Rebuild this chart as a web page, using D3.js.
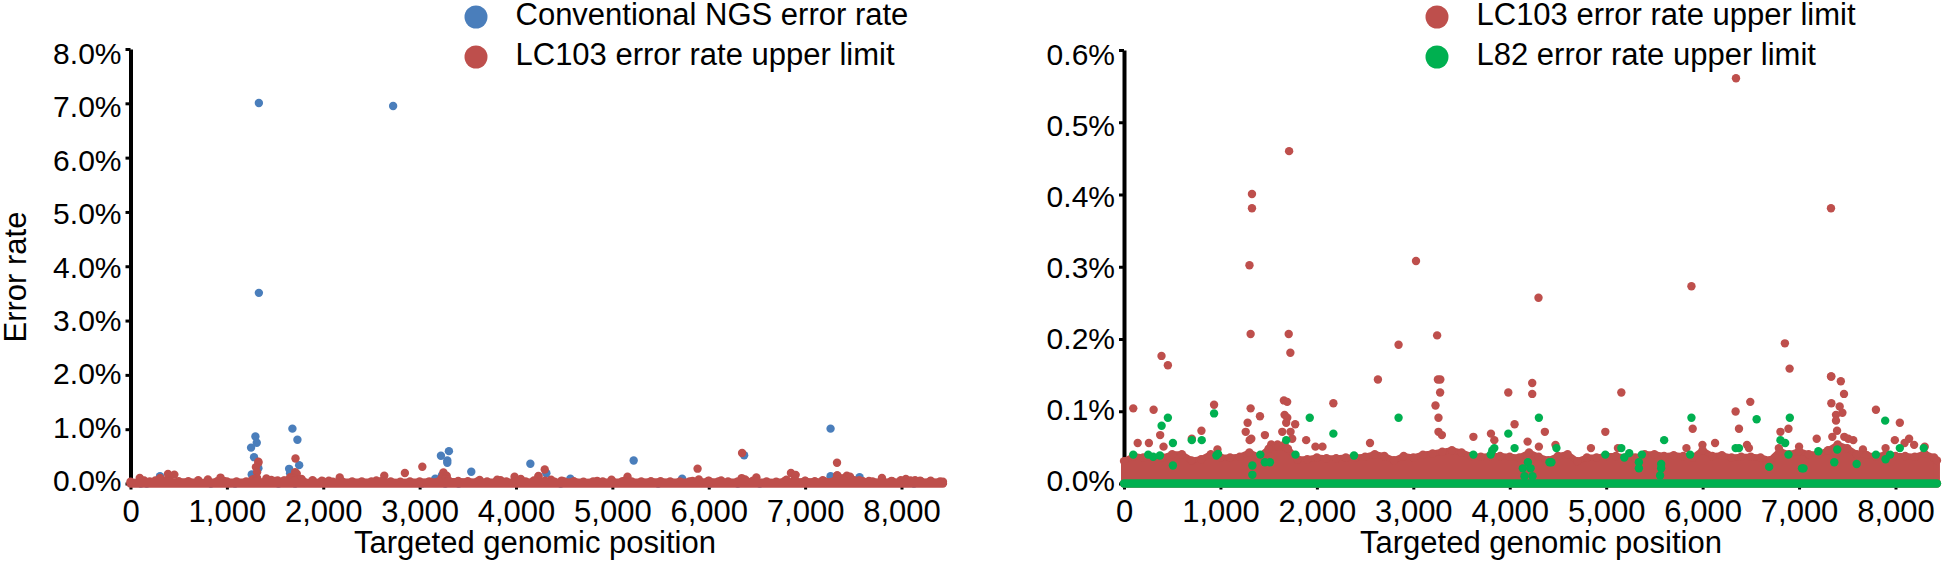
<!DOCTYPE html>
<html><head><meta charset="utf-8">
<style>html,body{margin:0;padding:0;background:#fff}svg{display:block}text{font-family:"Liberation Sans",Arial,sans-serif;fill:#000}</style>
<script src="https://cdn.jsdelivr.net/npm/d3@7"></script></head><body><div id="c"></div>
<script>
const xTicks=[0,1000,2000,3000,4000,5000,6000,7000,8000];
const yTicksLeft=[0,1,2,3,4,5,6,7,8];
const yTicksRight=[0,0.1,0.2,0.3,0.4,0.5,0.6];
const seriesSpan=[0,8430];
const lc103BandPos=[0,100,200,300,400,500,600,700,800,900,1000,1100,1200,1300,1400,1500,1600,1700,1800,1900,2000,2100,2200,2300,2400,2500,2600,2700,2800,2900,3000,3100,3200,3300,3400,3500,3600,3700,3800,3900,4000,4100,4200,4300,4400,4500,4600,4700,4800,4900,5000,5100,5200,5300,5400,5500,5600,5700,5800,5900,6000,6100,6200,6300,6400,6500,6600,6700,6800,6900,7000,7100,7200,7300,7400,7500,7600,7700,7800,7900,8000,8100,8200,8300,8400,8430];
const lc103BandTop=[.031,.038,.036,.036,.036,.0405,.0405,.032,.0336,.0405,.036,.036,.037,.043,.037,.048,.051,.048,.0336,.0336,.036,.035,.035,.036,.036,.037,.0405,.038,.0323,.038,.036,.04,.0415,.044,.046,.043,.038,.037,.038,.038,.037,.036,.043,.037,.0323,.038,.0405,.031,.036,.036,.038,.038,.036,.036,.0405,.0405,.038,.039,.038,.036,.046,.038,.039,.036,.037,.037,.036,.0323,.045,.0405,.045,.0405,.0405,.046,.054,.049,.0405,.0396,.037,.0405,.038,.038,.037,.0415,.036,.032];
const lc103Pos=[1327,1327,1301,1712,3028,6346,7331,5884,4298,1313,1708,1725,389,455,2847,3247,6853,6902,2633,3255,3280,7331,7433,96,307,934,1313,1410,1282,1658,1692,1665,1693,1682,1775,2171,375,803,1262,1461,1303,1320,1641,1727,1744,1889,142,258,410,703,1985,2058,2551,969,1527,1592,1665,3278,3985,4233,4233,5157,3230,3261,3261,3296,4050,4364,4991,3623,3805,3840,4185,4302,4474,4842,5122,7335,7466,7335,7421,7449,7383,7383,7394,7345,7469,7562,7510,6494,6342,6377,5897,7797,8045,6890,6807,7183,6129,5998,5832,6460,6480,7993,8141,8094,8193,8303,7897,7000,6790,7662];
const lc103Val=[.4007,.381,.302,.46,.308,.561,.381,.273,.257,.207,.207,.181,.1766,.1636,.192,.205,.194,.159,.144,.144,.144,.148,.1415,.104,.102,.109,.104,.093,.084,.115,.113,.095,.091,.084,.082,.111,.067,.073,.0715,.067,.06,.062,.0715,.0715,.062,.06,.056,.056,.051,.062,.051,.051,.056,.047,.054,.054,.054,.126,.126,.139,.124,.126,.108,.091,.0715,.067,.082,.0715,.0715,.0646,.069,.06,.058,.051,.0535,.049,.049,.148,.124,.111,.1065,.098,.095,.087,.073,.0646,.0646,.06,.062,.113,.0996,.0757,.0757,.102,.084,.0757,.0715,.062,.056,.0535,.049,.0535,.049,.06,.062,.056,.0535,.051,.049,.051,.049,.047];
const ngsPos=[1332,2725,1332,1296,1310,1251,1282,1680,1732,1750,1646,1327,1258,1656,306,3304,3221,3287,3287,3536,4149,5221,4315,4564,3162,3231,7264,7264,6367,5724,7565,106,168,833,1085,1535,1708,3266,3404,4463,5475,3024,6011,6301,6529,8129];
const ngsVal=[7.005,6.95,3.51,.867,.75,.66,.485,1.01,.806,.338,.27,.28,.166,.19,.135,.596,.51,.424,.38,.216,.364,.424,.19,.09,.09,.148,1.01,.135,.52,.09,.116,0,0,0,0,0,0,0,0,0,0,0,0,0,0,0];
const l82Pos=[455,390,934,1926,2171,507,703,806,1682,96,251,303,372,507,958,975,1413,1778,2385,1461,1513,1331,1331,2847,4302,3985,5601,4050,3840,3819,3802,3623,4484,5157,5239,5188,4991,5370,5339,5339,4188,4136,4216,4153,4236,4412,4432,5570,5570,5559,5884,6904,6560,7893,6807,6856,6342,6377,5870,6890,7200,7396,7797,8045,8293,7944,7897,7365,7597,6690,7030,7046];
const l82Val=[.091,.08,.097,.091,.069,.056,.06,.06,.06,.04,.04,.037,.0387,.025,.0387,.041,.04,.04,.0387,.0295,.0295,.025,.012,.091,.091,.069,.06,.049,.049,.0456,.04,.04,.049,.049,.042,.036,.04,.04,.0295,.021,.0295,.021,.021,.01,.01,.0295,.0295,.027,.021,.011,.091,.091,.089,.087,.06,.056,.049,.049,.04,.04,.0447,.047,.04,.049,.049,.04,.0336,.0295,.027,.023,.021,.021];
const legendLeft=["Conventional NGS error rate","LC103 error rate upper limit"];
const legendRight=["LC103 error rate upper limit","L82 error rate upper limit"];
const BLUE="#4A7EBB",RED="#BE4F4C",GREEN="#00B050",R=4.2;

const svg=d3.select("#c").append("svg").attr("width",1946).attr("height",563);

function points(g,x,y,pos,val,color){
  g.append("g").selectAll("circle").data(pos).join("circle")
   .attr("cx",d=>x(d)).attr("cy",(d,i)=>y(val[i])).attr("r",R).attr("fill",color);
}
function lc103(g,x,y){
  points(g,x,y,lc103Pos,lc103Val,RED);
  const area=d3.area().x(d=>x(d)).y0(y(0)).y1((d,i)=>y(lc103BandTop[i]));
  g.append("path").datum(lc103BandPos).attr("d",area).attr("fill",RED)
   .attr("stroke",RED).attr("stroke-width",R*2-2.4).attr("stroke-linejoin","round");
  points(g,x,y,lc103BandPos,lc103BandTop,RED);
  baseline(g,x,y,RED);
}
function baseline(g,x,y,color){
  g.append("line").attr("x1",x(seriesSpan[0])).attr("x2",x(seriesSpan[1]))
   .attr("y1",y(0)).attr("y2",y(0)).attr("stroke",color).attr("stroke-width",R*2).attr("stroke-linecap","round");
}
function panel(o){
  const x=d3.scaleLinear().domain([0,8000]).range([o.x0,o.x8]);
  const y=d3.scaleLinear().domain(o.yDomain).range([483.5,o.yTop]);
  const g=svg.append("g");
  const ax=g.append("g").attr("transform",`translate(0,${y(0)})`)
    .call(d3.axisBottom(x).tickValues(xTicks).tickSize(6).tickSizeOuter(0).tickPadding(10).tickFormat(d3.format(",")));
  ax.select(".domain").attr("d",`M${x(0)},0H${x(8470)}`).attr("stroke","#000").attr("stroke-width",3);
  ax.selectAll(".tick line").attr("stroke","#000").attr("stroke-width",3);
  ax.selectAll("text").attr("font-size",31);
  const ay=g.append("g").attr("transform",`translate(${o.x0},0)`)
    .call(d3.axisLeft(y).tickValues(o.yTicks).tickSize(5).tickSizeOuter(0).tickPadding(4).tickFormat(d=>d3.format(".1f")(d)+"%"));
  ay.select(".domain").attr("stroke","#000").attr("stroke-width",4);
  ay.selectAll(".tick line").attr("stroke","#000").attr("stroke-width",3);
  const maxV=o.yDomain[1];
  ay.selectAll("text").attr("font-size",30).attr("y",0).attr("dy",d=>(-3.5+7.5*d/maxV+10.6)+"px");
  o.draw(g,x,y);
  g.append("text").attr("x",o.titleX).attr("y",553).attr("text-anchor","middle").attr("font-size",31).text("Targeted genomic position");
  o.legend.forEach((t,i)=>{
    g.append("circle").attr("cx",o.legendX).attr("cy",17+40*i).attr("r",11.5).attr("fill",o.legendColors[i]);
    g.append("text").attr("x",o.legendX+39.5).attr("y",24.5+40*i).attr("font-size",31).text(t);
  });
}
panel({x0:130.5,x8:901.5,titleX:535,yDomain:[0,8],yTop:49,yTicks:yTicksLeft,legend:legendLeft,legendX:476,legendColors:[BLUE,RED],
  draw:(g,x,y)=>{points(g,x,y,ngsPos,ngsVal,BLUE);lc103(g,x,y);}});
panel({x0:1124,x8:1895.5,titleX:1541,yDomain:[0,0.6],yTop:50,yTicks:yTicksRight,legend:legendRight,legendX:1437,legendColors:[RED,GREEN],
  draw:(g,x,y)=>{lc103(g,x,y);baseline(g,x,y,GREEN);points(g,x,y,l82Pos,l82Val,GREEN);}});
svg.append("text").attr("transform","translate(26,277) rotate(-90)").attr("text-anchor","middle").attr("font-size",31).text("Error rate");
</script></body></html>
